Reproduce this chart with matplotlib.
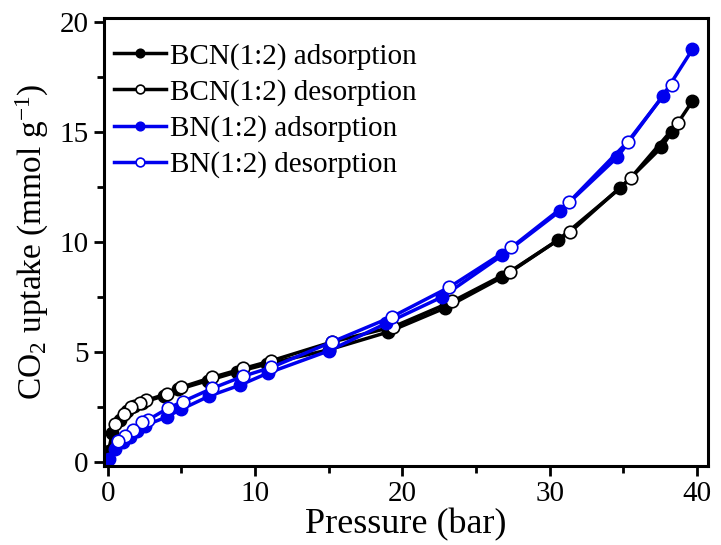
import matplotlib
matplotlib.use("Agg")
import matplotlib.pyplot as plt
from matplotlib.ticker import MultipleLocator

plt.rcParams['font.family'] = ['Liberation Serif', 'DejaVu Serif']
plt.rcParams['mathtext.fontset'] = 'custom'
plt.rcParams['mathtext.rm'] = 'Liberation Serif'
plt.rcParams['mathtext.it'] = 'Liberation Serif:italic'

# BCN(1:2)
bcn_ads_p = [0.05, 0.3, 0.8, 1.3, 1.8, 2.3, 3.8, 4.8, 6.8, 8.8, 10.8, 15.0, 19.0, 22.9, 26.8, 30.6, 34.8, 37.6, 38.3, 39.7]
bcn_ads_q = [0.5, 1.3, 1.9, 2.3, 2.55, 2.7, 3.0, 3.3, 3.7, 4.1, 4.45, 5.1, 5.9, 7.0, 8.4, 10.1, 12.45, 14.3, 15.0, 16.4]
bcn_des_p = [38.7, 35.5, 31.4, 27.3, 23.4, 19.4, 15.2, 11.1, 9.2, 7.1, 5.0, 4.0, 2.6, 2.2, 1.6, 1.1, 0.5]
bcn_des_q = [15.4, 12.9, 10.45, 8.65, 7.3, 6.15, 5.45, 4.6, 4.25, 3.85, 3.4, 3.1, 2.8, 2.7, 2.5, 2.2, 1.75]

# BN(1:2)
bn_ads_p = [0.1, 0.5, 1.0, 1.5, 2.0, 2.5, 4.0, 5.0, 6.9, 9.0, 10.9, 15.0, 18.9, 22.7, 26.8, 30.7, 34.6, 37.7, 39.7]
bn_ads_q = [0.15, 0.6, 0.9, 1.15, 1.4, 1.65, 2.05, 2.4, 3.0, 3.5, 4.05, 5.05, 6.3, 7.5, 9.4, 11.4, 13.85, 16.65, 18.75]
bn_des_p = [38.3, 35.3, 31.3, 27.4, 23.2, 19.3, 15.2, 11.1, 9.2, 7.1, 5.1, 4.1, 2.7, 2.3, 1.7, 1.2, 0.7]
bn_des_q = [17.15, 14.55, 11.8, 9.75, 7.95, 6.6, 5.45, 4.3, 3.9, 3.35, 2.75, 2.45, 1.9, 1.8, 1.45, 1.2, 0.95]

labels = ["BCN(1:2) adsorption", "BCN(1:2) desorption", "BN(1:2) adsorption", "BN(1:2) desorption"]

fig = plt.figure(figsize=(7.21, 5.45), dpi=100)
ax = fig.add_axes([0.144, 0.145, 0.838, 0.822])

lw = 2.5
ms = 9
blue = '#0000ee'
ax.plot(bcn_ads_p, bcn_ads_q, '-o', color='black', lw=lw, ms=ms, mfc='black', mec='black', label=labels[0])
ax.plot(bcn_des_p, bcn_des_q, '-o', color='black', lw=lw, ms=ms, mfc='white', mec='black', mew=1.2, label=labels[1])
ax.plot(bn_ads_p, bn_ads_q, '-o', color=blue, lw=lw, ms=ms, mfc=blue, mec=blue, label=labels[2])
ax.plot(bn_des_p, bn_des_q, '-o', color=blue, lw=lw, ms=ms, mfc='white', mec=blue, mew=1.2, label=labels[3])

ax.set_xlim(-0.27, 40.76)
ax.set_ylim(-0.18, 20.18)
ax.xaxis.set_major_locator(MultipleLocator(10))
ax.xaxis.set_minor_locator(MultipleLocator(5))
ax.yaxis.set_major_locator(MultipleLocator(5))
ax.yaxis.set_minor_locator(MultipleLocator(2.5))
ax.tick_params(which='major', direction='out', length=7, width=2, labelsize=21, pad=4)
ax.tick_params(which='minor', direction='out', length=5, width=2)
ax.tick_params(top=False, right=False)
for s in ax.spines.values():
    s.set_linewidth(2.2)

ax.set_xlabel("Pressure (bar)", fontsize=26, labelpad=1)
ax.set_ylabel(r"CO$_2$ uptake (mmol g$^{-1}$)", fontsize=24, labelpad=6)

leg = ax.legend(loc='upper left', bbox_to_anchor=(0.008, 0.958), frameon=False, fontsize=21,
                handlelength=1.75, handletextpad=0.15, borderaxespad=0.0, labelspacing=0.32,
                borderpad=0.2, markerscale=0.7)

fig.savefig("out.png", dpi=100)
